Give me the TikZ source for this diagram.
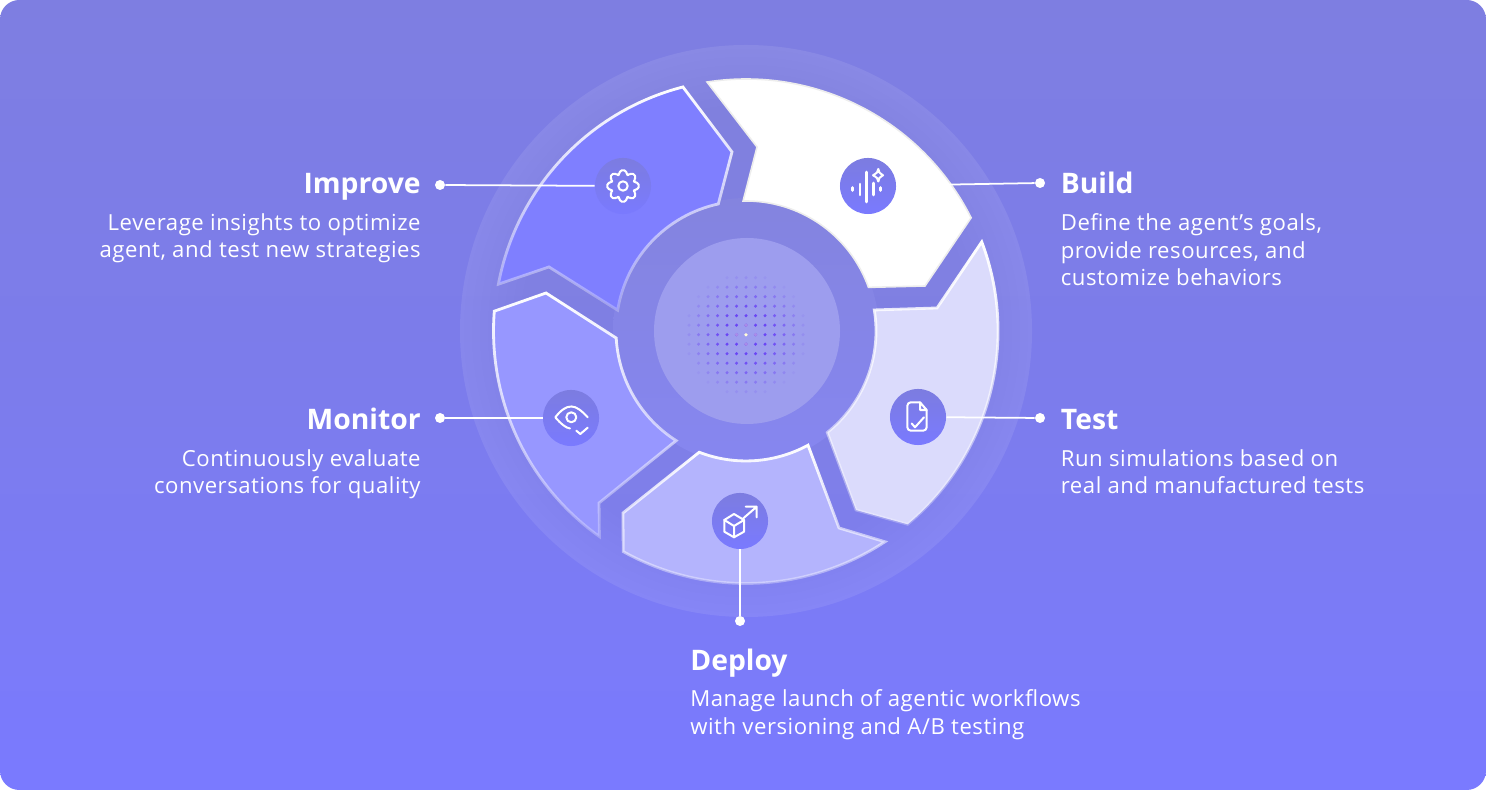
\documentclass[tikz,border=0pt]{standalone}
\usepackage{fontspec}
\setmainfont{Open Sans}
\newfontfamily\descfont[LetterSpace=2.4]{Open Sans}
\usetikzlibrary{arrows.meta,positioning,fadings}
\definecolor{bgtop}{HTML}{8080D6}
\definecolor{bgmid}{HTML}{7C7CEC}
\definecolor{bgbot}{HTML}{7A7AFF}
\definecolor{badgetop}{HTML}{7C7CE0}
\definecolor{haloshade}{HTML}{6F6FB8}
\definecolor{ringtop}{HTML}{8484DF}
\definecolor{ringbot}{HTML}{8686F0}
\definecolor{improvefill}{HTML}{7F7FFF}
\definecolor{monitorfill}{HTML}{9797FF}
\definecolor{deployfill}{HTML}{B4B4FD}
\definecolor{testfill}{HTML}{DBDBFC}
\definecolor{coredisc}{HTML}{9D9DEE}
\definecolor{coredot}{HTML}{6A45F5}
\definecolor{coremid}{HTML}{A98BE8}
\pgfdeclareverticalshading{pagegrad}{100bp}{color(0bp)=(bgbot); color(25bp)=(bgbot); color(50bp)=(bgmid); color(100bp)=(bgtop)}
\tikzfading[name=rimfade,top color=transparent!0,bottom color=transparent!75]
\tikzset{
  seg/.style={fill=#1,postaction={draw=white,line width=1.6pt,path fading=rimfade}},
  lead/.style={draw=white,line width=1pt},
  pin/.style={circle,fill=white,minimum size=5.7pt,inner sep=0pt},
  badge/.style={circle,minimum size=31.9pt,inner sep=0pt,top color=badgetop,bottom color=bgbot},
  glyph/.style={draw=white,line width=1.15pt,line join=round,line cap=round},
  title/.style={font=\fontsize{16.1}{20}\selectfont\bfseries,text=white,inner sep=0pt},
  desc/.style={font=\descfont\fontsize{12.6}{15.8}\selectfont,text=white,inner sep=0pt},
}
\begin{document}
\begin{tikzpicture}[x=0.02cm,y=0.02cm]
  \useasboundingbox (0,0) rectangle (1486,790);
  \fill[white] (0,0) rectangle (1486,790);
  \path[rounded corners=11pt,shading=pagegrad] (0,0) rectangle (1486,790);

  \begin{scope}[shift={(746,459)}]
    % halo and core
    \fill[white,opacity=.09] (0,0) circle (286);
    \foreach \r in {282,274,...,226} \fill[haloshade,opacity=.012] (0,0) circle (\r);
    \shade[top color=ringtop,bottom color=ringbot] (0,0) circle (133);
    \fill[coredisc] (1,0) circle (93);
    \foreach \i in {-6,...,6}
      \foreach \j in {-6,...,6} {
        \pgfmathsetmacro{\d}{sqrt(\i*\i+\j*\j)}
        \pgfmathsetmacro{\op}{max(0,min(1,(6.7-\d)/4.2))}
        \fill[coredot,opacity=\op] (\i*9.5,\j*9.5-3.7) circle (1.7);
      }
    \foreach \a in {0,90,180,270} \fill[coremid] (\a:9.5) ++(0,-3.7) circle (1.8);
    \fill[white!85!yellow] (0,-3.7) circle (1.9);

    % segments
    \path[seg=improvefill] (169.3:252) arc[start angle=169.3,end angle=104.5,radius=252]
      -- (-14,179) -- (102.3:130) arc[start angle=102.3,end angle=170.8,radius=130]
      -- (-197,64) -- cycle;
    \path[fill=white,draw=black!7,line width=0.9pt] (98.9:252) arc[start angle=98.9,end angle=26.7,radius=252]
      -- (179,45) -- (19.6:130) arc[start angle=19.6,end angle=91.3,radius=130]
      -- (11,184) -- cycle;
    \path[seg=testfill] (20.7:252) arc[start angle=20.7,end angle=-50.1,radius=252]
      -- (110,-179) -- (-51.3:130) arc[start angle=-51.3,end angle=9.3,radius=130]
      -- (191,23) -- cycle;
    \path[seg=deployfill] (-56.6:252.5) arc[start angle=-56.6,end angle=-119.1,radius=252.5]
      -- (-123,-182) -- (-111.1:130) arc[start angle=-111.1,end angle=-61.5,radius=130]
      -- (93,-197) -- cycle;
    \path[seg=monitorfill] (175.5:252.5) arc[start angle=175.5,end angle=234.5,radius=252.5]
      -- (-147,-172) -- (237.5:130) arc[start angle=237.5,end angle=183.1,radius=130]
      -- (-200,38) -- cycle;
  \end{scope}

  % badges and pins
  \node[badge] (improveicon) at (623,604) {};
  \node[badge] (buildicon) at (868,604) {};
  \node[badge] (testicon) at (918,373) {};
  \node[badge] (deployicon) at (740,269) {};
  \node[badge] (monitoricon) at (571,372) {};
  \node[pin] (improvepin) at (440,605) {};
  \node[pin] (buildpin) at (1040,607) {};
  \node[pin] (testpin) at (1040,372) {};
  \node[pin] (deploypin) at (740,169) {};
  \node[pin] (monitorpin) at (440,372) {};
  \draw[lead] (improvepin) -- (improveicon);
  \draw[lead] (buildicon) -- (buildpin);
  \draw[lead] (testicon) -- (testpin);
  \draw[lead] (deployicon) -- (deploypin);
  \draw[lead] (monitorpin) -- (monitoricon);

  % gear
  \begin{scope}[shift={(improveicon.center)}]
    \draw[glyph,rounded corners=1pt] (-11:16)
      \foreach \a in {0,45,...,315} { -- (\a-11:16) -- (\a+11:16) -- (\a+17:12) -- (\a+28:12) } -- cycle;
    \draw[glyph] (0,0) circle (4.7);
  \end{scope}
  % sound bars and spark
  \begin{scope}[shift={(buildicon.center)}]
    \draw[glyph,line width=1.45pt] (-15.3,-1.5) -- (-15.3,-4.5) (-8,2) -- (-8,-9) (-1.3,14) -- (-1.3,-16)
      (5.7,3) -- (5.7,-9) (12.7,-1.5) -- (12.7,-4.5);
    \draw[glyph] (10.3,17) .. controls (11,13.5) .. (15,10.7) .. controls (11,8) .. (10.3,4.5)
      .. controls (9.5,8) .. (5,10.7) .. controls (9.5,13.5) .. cycle;
  \end{scope}
  % document
  \begin{scope}[shift={(testicon.center)}]
    \draw[glyph,rounded corners=2pt] (2,14.7) -- (-10.7,14.7) -- (-10.7,-13.7) -- (8.7,-13.7) -- (8.7,7);
    \draw[glyph] (2,14.7) -- (8.7,7) (2,14.7) -- (2,7) -- (8.7,7);
    \draw[glyph] (-6.3,-6.5) -- (-3,-10.3) -- (6,-0.3);
  \end{scope}
  % cube and arrow
  \begin{scope}[shift={(deployicon.center)}]
    \draw[glyph] (-6,7) -- (4,1) -- (4,-10.7) -- (-6,-16.3) -- (-15.7,-10.7) -- (-15.7,1) -- cycle;
    \draw[glyph] (-15.7,1) -- (-6,-5) -- (4,1) (-6,-5) -- (-6,-16.3);
    \draw[glyph] (3.3,2.7) -- (16.7,14.3) (5.7,14.3) -- (16.7,14.3) -- (16.7,3.7);
  \end{scope}
  % eye and tick
  \begin{scope}[shift={(monitoricon.center)}]
    \draw[glyph] (16.7,0.7) .. controls (10,8) and (5,11.5) .. (0.3,11.5) .. controls (-5,11.5) and (-10,8) .. (-15.7,0.7)
      .. controls (-10,-6) and (-5,-10) .. (-1,-10.5);
    \draw[glyph] (0.3,0.7) circle (5);
    \draw[glyph] (5.3,-12.7) -- (9.3,-16) -- (16.7,-9.7);
  \end{scope}

  % texts
  \node[title,anchor=base east] (improvetitle) at (421,596) {Improve};
  \node[desc,anchor=north east,align=right] (improvedesc) at (421,577) {Leverage insights to optimize\\agent, and test new strategies};
  \node[title,anchor=base west] (buildtitle) at (1060.5,596) {Build};
  \node[desc,anchor=north west,align=left] (builddesc) at (1060.5,577) {Define the agent’s goals,\\provide resources, and\\customize behaviors};
  \node[title,anchor=base west] (testtitle) at (1060.5,360) {Test};
  \node[desc,anchor=north west,align=left] (testdesc) at (1060.5,341) {Run simulations based on\\real and manufactured tests};
  \node[title,anchor=base east] (monitortitle) at (421,360) {Monitor};
  \node[desc,anchor=north east,align=right] (monitordesc) at (421,341) {Continuously evaluate\\conversations for quality};
  \node[title,anchor=base west] (deploytitle) at (690,119) {Deploy};
  \node[desc,anchor=north west,align=left] (deploydesc) at (690,101) {Manage launch of agentic workflows\\with versioning and A/B testing};
\end{tikzpicture}
\end{document}
